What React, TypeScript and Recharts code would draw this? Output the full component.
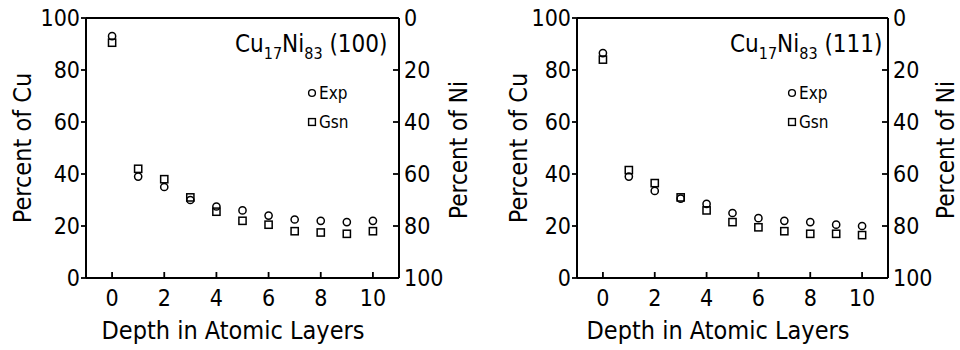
import React from "react";
import {
  ScatterChart,
  Scatter,
  XAxis,
  YAxis,
  ReferenceLine,
  Customized,
} from "recharts";

// depth in atomic layers
const depth = [0, 1, 2, 3, 4, 5, 6, 7, 8, 9, 10];

// Cu17Ni83 (100) face, percent Cu
const exp100 = [93, 39, 35, 30, 27.5, 26, 24, 22.5, 22, 21.5, 22];
const gsn100 = [90.5, 42, 38, 31, 25.5, 22, 20.5, 18, 17.5, 17, 18];

// Cu17Ni83 (111) face, percent Cu
const exp111 = [86.5, 39, 33.5, 30.5, 28.5, 25, 23, 22, 21.5, 20.5, 20];
const gsn111 = [84, 41.5, 36.5, 31, 26, 21.5, 19.5, 18, 17, 17, 16.5];

const xTicks = [0, 2, 4, 6, 8, 10];
const cuTicks = [0, 20, 40, 60, 80, 100];
const niTicks = [0, 20, 40, 60, 80, 100];

const FONT = '"Liberation Sans Narrow", "DejaVu Sans Condensed", "DejaVu Sans", sans-serif';
const INK = "#000";

const toRows = (vals: number[]) => depth.map((d, i) => ({ depth: d, cu: vals[i] }));
// Ni share of the same points, only used so the right axis has its scale
const toNiRows = (vals: number[]) => depth.map((d, i) => ({ depth: d, ni: 100 - vals[i] }));

const CuTick = (p: any) => (
  <g>
    <line x1={p.x - 5} x2={p.x} y1={p.y} y2={p.y} stroke={INK} strokeWidth={1.8} />
    <text x={p.x - 6} y={p.y} dy="0.36em" textAnchor="end" fontSize={23} fill={INK}>
      {p.payload.value}
    </text>
  </g>
);

const NiTick = (p: any) => (
  <g>
    <line x1={p.x - 6} x2={p.x} y1={p.y} y2={p.y} stroke={INK} strokeWidth={1.8} />
    <text x={p.x + 5} y={p.y} dy="0.36em" textAnchor="start" fontSize={23} fill={INK}>
      {p.payload.value}
    </text>
  </g>
);

const DepthTick = (p: any) => (
  <g>
    <line x1={p.x} x2={p.x} y1={p.y - 6} y2={p.y} stroke={INK} strokeWidth={1.8} />
    <text x={p.x} y={p.y + 28} textAnchor="middle" fontSize={23} fill={INK}>
      {p.payload.value}
    </text>
  </g>
);

const circleShape = (p: any) => (
  <circle cx={p.cx} cy={p.cy} r={3.6} fill="none" stroke={INK} strokeWidth={1.5} />
);
const squareShape = (p: any) => (
  <rect x={p.cx - 3.6} y={p.cy - 3.6} width={7.2} height={7.2} fill="none" stroke={INK} strokeWidth={1.5} />
);
const noShape = () => <g />;

type PanelProps = {
  face: string;
  exp: number[];
  gsn: number[];
  leftW: number;
  rightW: number;
  cuLabelX: number;
  niLabelX: number;
  titleX: number;
  legendX: number;
  depthMid: number;
};

function Panel({ face, exp, gsn, leftW, rightW, cuLabelX, niLabelX, titleX, legendX, depthMid }: PanelProps) {
  const Notes = () => (
    <g fill={INK} fontFamily={FONT}>
      <text x={titleX} y={52} fontSize={24}>
        Cu<tspan fontSize={16} dy={7}>17</tspan>
        <tspan dy={-7}>Ni</tspan>
        <tspan fontSize={16} dy={7}>83</tspan>
        <tspan dy={-7}> ({face})</tspan>
      </text>
      <circle cx={legendX} cy={93} r={3.4} fill="none" stroke={INK} strokeWidth={1.4} />
      <text x={legendX + 7} y={93} dy="0.36em" fontSize={17}>Exp</text>
      <rect x={legendX - 3.4} y={118.6} width={6.8} height={6.8} fill="none" stroke={INK} strokeWidth={1.4} />
      <text x={legendX + 7} y={122} dy="0.36em" fontSize={17}>Gsn</text>
      <text transform={`translate(${cuLabelX},148) rotate(-90)`} textAnchor="middle" dy="0.36em" fontSize={25}>
        Percent of Cu
      </text>
      <text transform={`translate(${niLabelX},150) rotate(-90)`} textAnchor="middle" dy="0.36em" fontSize={24}>
        Percent of Ni
      </text>
      <text x={depthMid} y={330} textAnchor="middle" dy="0.36em" fontSize={25}>
        Depth in Atomic Layers
      </text>
    </g>
  );
  return (
    <ScatterChart width={480} height={350} margin={{ top: 18, right: 0, bottom: 0, left: 0 }}>
      <XAxis
        dataKey="depth"
        type="number"
        domain={[-1, 11]}
        ticks={xTicks}
        height={72}
        axisLine={{ stroke: INK, strokeWidth: 2 }}
        tickLine={false}
        tickSize={0}
        tickMargin={0}
        tick={DepthTick}
        allowDataOverflow
      />
      <YAxis
        yAxisId="cu"
        dataKey="cu"
        type="number"
        domain={[0, 100]}
        ticks={cuTicks}
        width={leftW}
        axisLine={{ stroke: INK, strokeWidth: 2 }}
        tickLine={false}
        tickSize={0}
        tickMargin={0}
        tick={CuTick}
        allowDataOverflow
      />
      <YAxis
        yAxisId="ni"
        dataKey="ni"
        orientation="right"
        type="number"
        domain={[0, 100]}
        reversed
        ticks={niTicks}
        width={rightW}
        axisLine={{ stroke: INK, strokeWidth: 2 }}
        tickLine={false}
        tickSize={0}
        tickMargin={0}
        tick={NiTick}
        allowDataOverflow
      />
      <ReferenceLine yAxisId="cu" y={100} stroke={INK} strokeWidth={2} />
      <Scatter yAxisId="ni" name="Ni" data={toNiRows(exp)} shape={noShape} isAnimationActive={false} />
      <Scatter yAxisId="cu" name="Exp" data={toRows(exp)} shape={circleShape} isAnimationActive={false} />
      <Scatter yAxisId="cu" name="Gsn" data={toRows(gsn)} shape={squareShape} isAnimationActive={false} />
      <Customized component={Notes} />
    </ScatterChart>
  );
}

export default function App() {
  return (
    <div
      style={{
        position: "absolute",
        left: 0,
        top: 0,
        width: 960,
        height: 350,
        overflow: "hidden",
        background: "#fff",
        fontFamily: FONT,
        display: "flex",
      }}
    >
      <Panel face="100" exp={exp100} gsn={gsn100} leftW={86} rightW={81} cuLabelX={22} niLabelX={458} titleX={235} legendX={312} depthMid={233} />
      <Panel face="111" exp={exp111} gsn={gsn111} leftW={97} rightW={72} cuLabelX={38} niLabelX={465} titleX={250} legendX={312} depthMid={238} />
    </div>
  );
}
